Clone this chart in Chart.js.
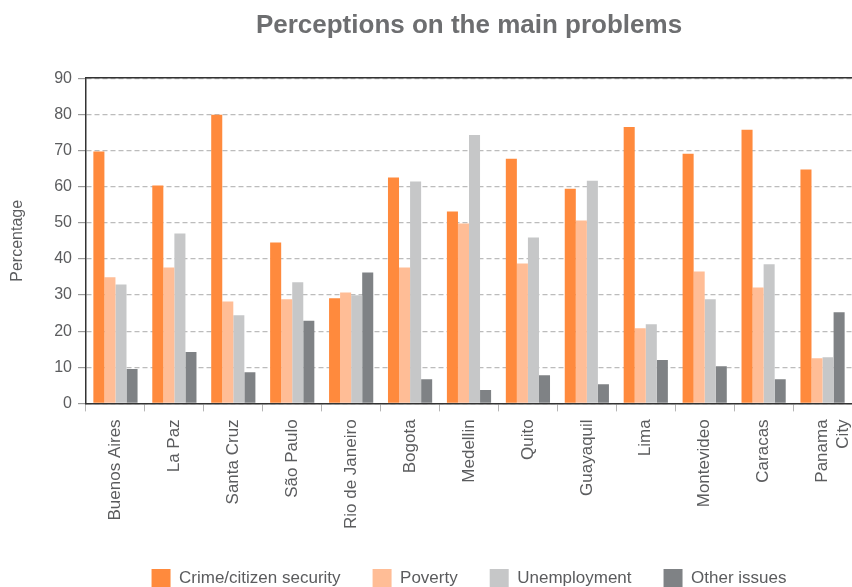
<!DOCTYPE html>
<html lang="en">
<head>
    <meta charset="UTF-8">
    <title>Perceptions on the main problems</title>
    <style>
        html, body {
            margin: 0;
            padding: 0;
            background: #ffffff;
        }
        #wrap {
            width: 852px;
            height: 587px;
        }
    </style>
</head>
<body>
    <div id="wrap">
        <canvas id="problemsChart" width="852" height="587"></canvas>
    </div>

    <script src="https://cdn.jsdelivr.net/npm/chart.js"></script>
    <script>
        const cities = ['Buenos Aires', 'La Paz', 'Santa Cruz', 'São Paulo', 'Rio de Janeiro', 'Bogota',
            'Medellin', 'Quito', 'Guayaquil', 'Lima', 'Montevideo', 'Caracas', ['Panama', 'City']];
        const crime = [69.7, 60.3, 79.9, 44.5, 29.1, 62.5, 53.1, 67.7, 59.4, 76.5, 69.1, 75.7, 64.7];
        const poverty = [34.9, 37.6, 28.2, 28.8, 30.7, 37.6, 49.8, 38.7, 50.6, 20.8, 36.5, 32.1, 12.5];
        const unemployment = [32.9, 47.0, 24.4, 33.5, 29.9, 61.4, 74.3, 45.9, 61.6, 21.9, 28.8, 38.5, 12.8];
        const otherIssues = [9.5, 14.2, 8.6, 22.9, 36.2, 6.7, 3.7, 7.8, 5.3, 12.0, 10.3, 6.7, 25.2];
        const yTicks = [0, 10, 20, 30, 40, 50, 60, 70, 80, 90];

        const fontName = "'Liberation Sans', Arial, sans-serif";
        const textGrey = '#5b5c5e';

        const ctx = document.getElementById('problemsChart').getContext('2d');
        const chart = new Chart(ctx, {
            type: 'bar',
            data: {
                labels: cities,
                datasets: [
                    { label: 'Crime/citizen security', data: crime, backgroundColor: '#ff8a3d' },
                    { label: 'Poverty', data: poverty, backgroundColor: '#ffbd96' },
                    { label: 'Unemployment', data: unemployment, backgroundColor: '#c6c7c8' },
                    { label: 'Other issues', data: otherIssues, backgroundColor: '#7f8285' }
                ]
            },
            options: {
                responsive: false,
                animation: false,
                layout: {
                    padding: { left: 8, right: 0, top: 0, bottom: -11 }
                },
                datasets: {
                    bar: {
                        categoryPercentage: 0.75,
                        barPercentage: 1.0
                    }
                },
                scales: {
                    x: {
                        afterFit: (axis) => {
                            // let the plot run to the right edge like the original
                            axis.paddingRight = 0;
                        },
                        grid: {
                            drawOnChartArea: false,
                            drawTicks: true,
                            tickLength: 8,
                            color: '#b5b5b5',
                            offset: true
                        },
                        border: { color: '#333333', width: 1.5 },
                        ticks: {
                            color: textGrey,
                            font: { family: fontName, size: 17 },
                            maxRotation: 90,
                            minRotation: 90,
                            autoSkip: false,
                            padding: 8
                        }
                    },
                    xTop: {
                        position: 'top',
                        grid: { display: false },
                        ticks: { display: false },
                        border: { color: '#333333', width: 1.5 }
                    },
                    y: {
                        min: 0,
                        max: 90,
                        afterBuildTicks: (axis) => {
                            axis.ticks = yTicks.map(v => ({ value: v }));
                        },
                        grid: {
                            color: '#bcbcbc',
                            lineWidth: 1.2,
                            tickLength: 8,
                            tickColor: '#9a9a9a',
                            tickBorderDash: []
                        },
                        border: { color: '#333333', width: 1.5, dash: [5, 3] },
                        ticks: {
                            color: textGrey,
                            font: { family: fontName, size: 16 },
                            padding: 6
                        },
                        title: {
                            display: true,
                            text: 'Percentage',
                            color: textGrey,
                            font: { family: fontName, size: 16 },
                            padding: { top: 0, bottom: 21 }
                        }
                    }
                },
                plugins: {
                    title: {
                        display: true,
                        text: 'Perceptions on the main problems',
                        color: '#6d6e70',
                        fullSize: false,
                        font: { family: fontName, size: 26, weight: 'bold' },
                        padding: { top: 10, bottom: 29 }
                    },
                    legend: {
                        position: 'bottom',
                        fullSize: false,
                        labels: {
                            color: textGrey,
                            font: { family: fontName, size: 17 },
                            boxWidth: 19,
                            boxHeight: 19,
                            padding: 32
                        }
                    },
                    tooltip: { enabled: false }
                }
            }
        });
    </script>
</body>
</html>
